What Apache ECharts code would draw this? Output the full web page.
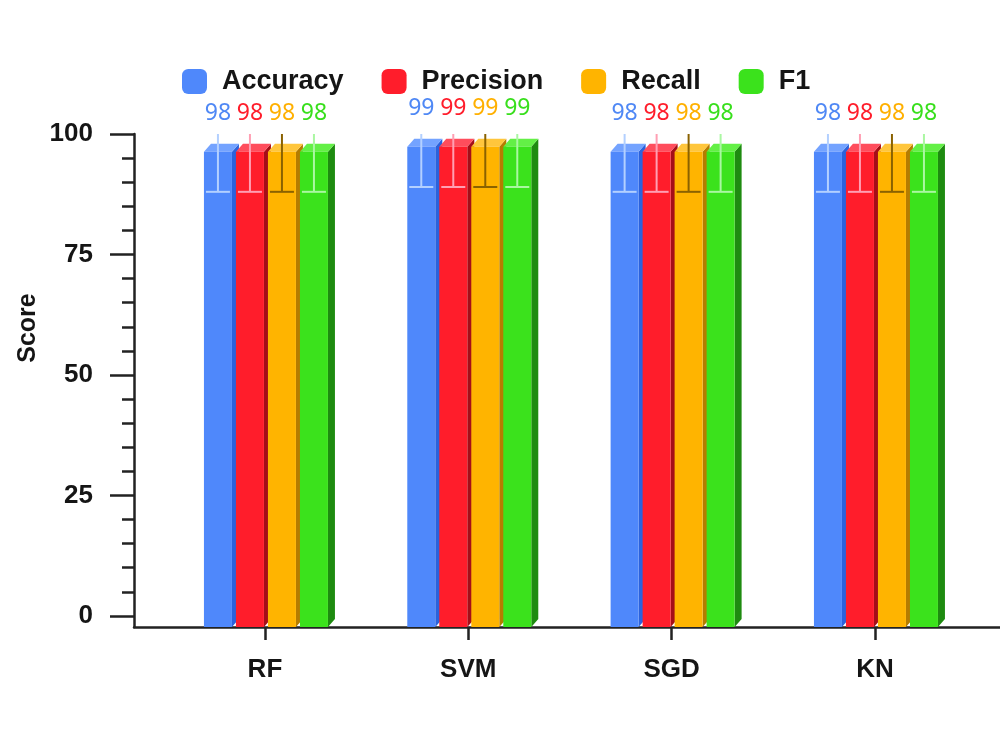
<!DOCTYPE html>
<html>
<head>
<meta charset="utf-8">
<script src="https://cdn.jsdelivr.net/npm/echarts@6/dist/echarts.min.js"></script>
<style>html,body{margin:0;padding:0;background:#fff}#c{width:1000px;height:750px}</style>
</head>
<body>
<div id="c"></div>
<script>
// ---- data ----
const categories = ['RF', 'SVM', 'SGD', 'KN'];
const metrics = ['Accuracy', 'Precision', 'Recall', 'F1'];
const accuracy = [98, 99, 98, 98];
const precision = [98, 99, 98, 98];
const recall = [98, 99, 98, 98];
const f1 = [98, 99, 98, 98];
const accuracyErr = [10, 10, 10, 10];
const precisionErr = [10, 10, 10, 10];
const recallErr = [10, 10, 10, 10];
const f1Err = [10, 10, 10, 10];
const yMajorTicks = [0, 25, 50, 75, 100];
const yMinorTicks = [5, 10, 15, 20, 30, 35, 40, 45, 55, 60, 65, 70, 80, 85, 90, 95];
const categoryPositions = [0, 1, 2, 3];

// ---- styles ----
const Y_MIN = -2.3, Y_MAX = 100;
const X_MIN = -0.644, X_MAX = 3.615;
const SLOT = 32, FRONT = 28, DX = 7, DY = 8, SHIFT = 1;
const styles = [
  { front: '#4f88fb', top: '#74a3ff', side: '#2b62dc', err: '#b3d0ff', label: '#4f88f5' },
  { front: '#ff1d2b', top: '#ff4d5c', side: '#a50e18', err: '#ff9fb3', label: '#ff1d2b' },
  { front: '#ffb400', top: '#ffc63c', side: '#b57c00', err: '#8a6200', label: '#ffb000' },
  { front: '#3be21c', top: '#63f046', side: '#1e8b10', err: '#aaf7a2', label: '#38df1c' }
];
const seriesValues = [accuracy, precision, recall, f1];
const seriesErrs = [accuracyErr, precisionErr, recallErr, f1Err];

function makeRender(k) {
  const st = styles[k];
  return function (params, api) {
    const xi = api.value(0), v = api.value(1), e = api.value(2);
    const c = api.coord([xi, v]);
    const base = api.coord([xi, Y_MIN])[1];
    const errTop = api.coord([xi, Math.min(v + e, Y_MAX)])[1];
    const errLow = api.coord([xi, v - e])[1];
    const cx = c[0] + (k - 1.5) * SLOT + SHIFT;
    const x0 = cx - FRONT / 2, x1 = cx + FRONT / 2;
    const yTop = c[1] + DY;
    return {
      type: 'group',
      children: [
        { type: 'polygon', shape: { points: [[x1, base], [x1, yTop], [x1 + DX, yTop - DY], [x1 + DX, base - DY]] },
          style: { fill: st.side } },
        { type: 'polygon', shape: { points: [[x0, yTop], [x1, yTop], [x1 + DX, yTop - DY], [x0 + DX, yTop - DY]] },
          style: { fill: st.top } },
        { type: 'rect', shape: { x: x0, y: yTop, width: FRONT, height: base - yTop },
          style: { fill: st.front } },
        { type: 'line', shape: { x1: cx, y1: errTop, x2: cx, y2: errLow },
          style: { stroke: st.err, lineWidth: 2 } },
        { type: 'line', shape: { x1: cx - 12, y1: errLow, x2: cx + 12, y2: errLow },
          style: { stroke: st.err, lineWidth: 2 } },
        { type: 'text', x: cx, y: c[1] - 30,
          style: { text: String(v), fill: st.label, font: '23px "Noto Sans"', align: 'center', verticalAlign: 'middle' } }
      ]
    };
  };
}

const series = metrics.map(function (name, k) {
  return {
    name: name,
    type: 'custom',
    coordinateSystem: 'cartesian2d',
    xAxisIndex: 0,
    yAxisIndex: 0,
    itemStyle: { color: styles[k].front },
    renderItem: makeRender(k),
    encode: { x: 0, y: 1 },
    data: categoryPositions.map(function (p, i) { return [p, seriesValues[k][i], seriesErrs[k][i]]; }),
    clip: false,
    z: 2 + k
  };
});

const axisColor = '#222';
const chart = echarts.init(document.getElementById('c'), null, { renderer: 'canvas' });
chart.setOption({
  animation: false,
  color: styles.map(function (s) { return s.front; }),
  legend: {
    data: metrics,
    left: 177,
    top: 63,
    icon: 'roundRect',
    itemWidth: 25,
    itemHeight: 25,
    itemGap: 38,
    textStyle: { fontFamily: 'Liberation Sans', fontWeight: 'bold', fontSize: 27, color: '#151515', padding: [0, 0, 0, 10] }
  },
  grid: { left: 134, right: 0, top: 134, bottom: 123, containLabel: false, outerBoundsMode: 'none' },
  xAxis: {
    type: 'value',
    min: X_MIN,
    max: X_MAX,
    splitLine: { show: false },
    axisLine: { show: true, onZero: false, lineStyle: { color: axisColor, width: 2.5 } },
    axisTick: { show: true, inside: false, length: 13, customValues: categoryPositions, lineStyle: { color: axisColor, width: 2.5 } },
    axisLabel: {
      customValues: categoryPositions,
      margin: 30,
      formatter: function (v) { return categories[Math.round(v)]; },
      fontFamily: 'Liberation Sans', fontWeight: 'bold', fontSize: 26, color: '#151515'
    }
  },
  yAxis: [
    {
      type: 'value',
      min: Y_MIN,
      max: Y_MAX,
      position: 'left',
      splitLine: { show: false },
      axisLine: { show: true, onZero: false, lineStyle: { color: axisColor, width: 2.5 } },
      axisTick: { show: true, length: 24, customValues: yMajorTicks, lineStyle: { color: axisColor, width: 2.5 } },
      axisLabel: {
        customValues: yMajorTicks,
        margin: 41,
        fontFamily: 'Liberation Sans', fontWeight: 'bold', fontSize: 26, color: '#151515'
      }
    },
    {
      type: 'value',
      min: Y_MIN,
      max: Y_MAX,
      position: 'left',
      offset: 0,
      splitLine: { show: false },
      axisLine: { show: false, onZero: false },
      axisTick: { show: true, length: 12, customValues: yMinorTicks, lineStyle: { color: axisColor, width: 2.5 } },
      axisLabel: { show: false }
    }
  ],
  graphic: [
    {
      type: 'text',
      x: 28,
      y: 328,
      rotation: Math.PI / 2,
      style: { text: 'Score', font: 'bold 25px "Liberation Sans"', fill: '#151515', align: 'center', verticalAlign: 'middle' }
    }
  ],
  series: series
});
</script>
</body>
</html>
